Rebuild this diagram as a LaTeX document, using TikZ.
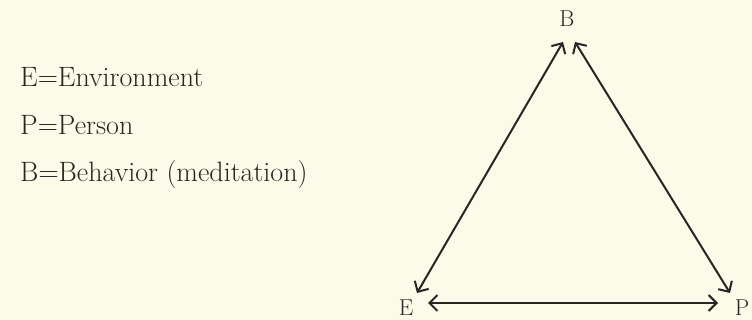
\documentclass[tikz,border=0pt]{standalone}
\usetikzlibrary{arrows.meta}
\definecolor{paper}{RGB}{251,251,233}
\definecolor{ink}{RGB}{40,38,34}
\tikzset{
  legend/.style={anchor=base west, inner sep=0pt, text=ink, font=\fontsize{28}{34}\selectfont},
  vlabel/.style={anchor=base, inner sep=0pt, text=ink, font=\fontsize{23}{28}\selectfont},
  link/.style={draw=ink, line width=2pt, {Straight Barb[length=8pt,width=16pt]}-{Straight Barb[length=8pt,width=16pt]}}
}
\begin{document}
\begin{tikzpicture}[x=1pt,y=-1pt]
\fill[paper] (0,0) rectangle (752,320);
\useasboundingbox (0,0) rectangle (752,320);
\node[legend] (l1) at (20,87) {E=Environment};
\node[legend] (l2) at (20,135) {P=Person};
\node[legend] (l3) at (20,182) {B=Behavior (meditation)};
\node[vlabel] (B) at (567,27) {B};
\node[vlabel] (E) at (406,315) {E};
\node[vlabel] (P) at (742,315) {P};
\coordinate (bE) at (563,42);
\coordinate (bP) at (575,42);
\coordinate (eB) at (417,293);
\coordinate (pB) at (730,293);
\coordinate (eP) at (428,303);
\coordinate (pE) at (718,303);
\draw[link] (bE) -- (eB);
\draw[link] (bP) -- (pB);
\draw[link] (eP) -- (pE);
\end{tikzpicture}
\end{document}
